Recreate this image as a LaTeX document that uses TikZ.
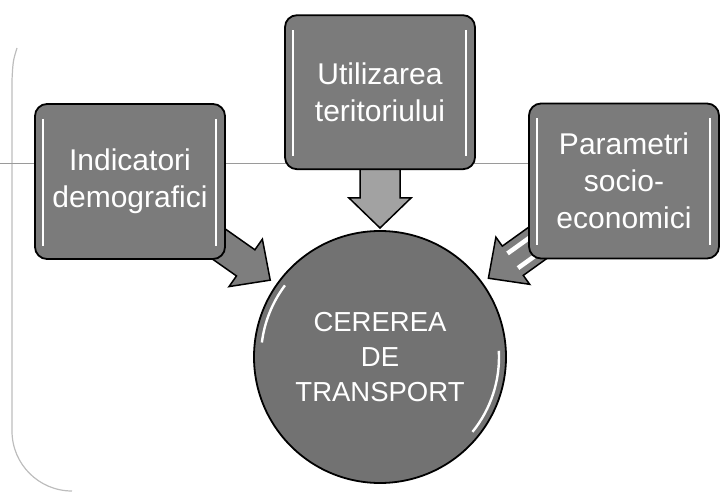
\documentclass[tikz,border=0pt]{standalone}
\usepackage{fontspec}
\usepackage{tikz}
\usetikzlibrary{positioning, calc, backgrounds}
\newfontfamily\labelfont{Liberation Sans}
\definecolor{boxgray}   {HTML}{7B7B7B}
\definecolor{discgray}  {HTML}{727272}
\definecolor{arrowgray} {HTML}{7E7E7E}
\definecolor{downgray}  {HTML}{A2A2A2}
\definecolor{framegray} {HTML}{BDBDBD}
\definecolor{rulegray}  {HTML}{9A9A9A}

\newcommand{\blockarrow}[5][]{%
  \coordinate (ahead) at ($(#3)!30pt!(#2)$);
  \filldraw[arr, #1] ($(#2)!#4!90:(#3)$) -- ($(ahead)!#4!-90:(#2)$)
    -- ($(ahead)!#5!-90:(#2)$) -- (#3) -- ($(ahead)!#5!90:(#2)$)
    -- ($(ahead)!#4!90:(#2)$) -- ($(#2)!#4!-90:(#3)$) -- cycle;}

\begin{document}
\begin{tikzpicture}[
    x=1pt, y=1pt,
    node distance=60pt,
    box/.style={draw=black, line width=1.8pt, rounded corners=12pt, fill=boxgray,
                minimum width=190pt, minimum height=155pt, align=center,
                text=white, font=\labelfont\fontsize{30}{37}\selectfont,
                path picture={
                  \draw[white, line width=2.4pt]
                    ([xshift=8pt, yshift=-15pt]path picture bounding box.north west)
                    -- ([xshift=8pt, yshift=13pt]path picture bounding box.south west);
                  \draw[white, line width=2.4pt]
                    ([xshift=-9pt, yshift=-15pt]path picture bounding box.north east)
                    -- ([xshift=-9pt, yshift=13pt]path picture bounding box.south east);}},
    disc/.style={circle, draw=black, line width=1.8pt, fill=discgray,
                 minimum size=252pt, inner sep=0pt, align=center,
                 text=white, font=\labelfont\fontsize{27.5}{35}\selectfont,
                 path picture={
                   \draw[white, line width=2.4pt]
                     ($(path picture bounding box.center)+(143:119pt)$)
                     arc[start angle=143, end angle=173, radius=119pt];
                   \draw[white, line width=2.4pt]
                     ($(path picture bounding box.center)+(-39:119pt)$)
                     arc[start angle=-39, end angle=3, radius=119pt];}},
    arr/.style={draw=black, line width=1.5pt, fill=arrowgray},
    stripe/.style={white, line width=4.5pt},
    frame/.style={framegray, line width=1.2pt},
  ]
    \useasboundingbox (0,0) rectangle (720,493);

    \node[disc] (demand) at (380,136) {CEREREA\\DE\\TRANSPORT};

    \node[box, minimum height=154pt, above=of demand] (util)
      {Utilizarea\\teritoriului};

    \node[box] (ind) at (130,311.5) {Indicatori\\demografici};

    \node[box] (param) at (624,312) {Parametri\\socio-\\economici};

    \coordinate (inL) at ($(demand.center)+(145:134pt)$);
    \coordinate (inM) at ($(demand.center)+(90:129pt)$);
    \coordinate (inR) at ($(demand.center)+(36:134pt)$);

    \begin{scope}[on background layer]
      \draw[frame] (17,445) .. controls (13,432) .. (12,413) -- (12,62)
        arc[start angle=180, end angle=270, radius=60pt];
      \draw[rulegray, line width=0.6pt] (0,330) -- (720,330);

      \blockarrow{ind.center}{inL}{16pt}{29pt}
      \blockarrow[fill=downgray]{util.center}{inM}{20pt}{31pt}
      \blockarrow{param.center}{inR}{18pt}{29pt}
      \draw[stripe] ($(ahead)!9pt!-90:(param.center)$) -- ($(param.center)!9pt!90:(ahead)$);
      \draw[stripe] ($(ahead)!9pt!90:(param.center)$) -- ($(param.center)!9pt!-90:(ahead)$);
    \end{scope}
  \end{tikzpicture}
\end{document}
